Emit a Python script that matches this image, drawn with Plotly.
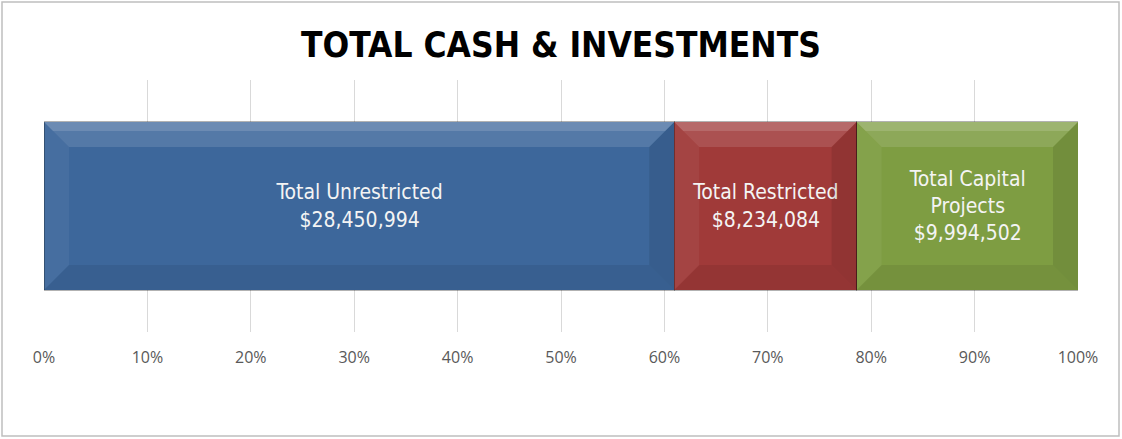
import plotly.graph_objects as go

categories = ["Total Unrestricted", "Total Restricted", "Total Capital<br>Projects"]
values = [28450994, 8234084, 9994502]
colors = ["#3D679B", "#A03A39", "#7E9D42"]
tick_vals = [0, 10, 20, 30, 40, 50, 60, 70, 80, 90, 100]
tick_text = [f"{v}%" for v in tick_vals]
title_text = "TOTAL CASH & INVESTMENTS"

NARROW = "Liberation Sans Narrow, Arial Narrow, Noto Sans Condensed, DejaVu Sans Condensed, Roboto Condensed, sans-serif"

W, H = 1122, 439
ML, MR, MT, MB = 44, 44, 80, 107
PW = W - ML - MR
PH = H - MT - MB
BAR_W = 0.667

fig = go.Figure()
for name, v, c in zip(categories, values, colors):
    fig.add_trace(go.Bar(
        y=[0], x=[v], orientation="h", name=name.replace("<br>", " "),
        width=BAR_W,
        marker=dict(color=c, line=dict(color="rgba(0,0,0,0.3)", width=1)),
        text=[f"{name}<br>${v:,}"], textposition="inside",
        insidetextanchor="middle", textangle=0,
        textfont=dict(color="#F4F4F4", size=21, family=NARROW),
        hoverinfo="skip",
    ))

# bevel decoration derived from data positions
total = sum(values)
bx = 25 / PW * 100
by = 25 / PH * 1.0
tx = 9 / PW * 100
ty = 9 / PH * 1.0
h = BAR_W / 2
shapes = []
cum = 0
for v in values:
    x0 = cum / total * 100
    cum += v
    x1 = cum / total * 100
    polys = [
        ([(x0, h), (x1, h), (x1 - bx, h - by), (x0 + bx, h - by)], "rgba(255,255,255,0.12)"),
        ([(x0, h), (x1, h), (x1 - tx, h - ty), (x0 + tx, h - ty)], "rgba(255,255,255,0.14)"),
        ([(x0, -h), (x1, -h), (x1 - bx, -h + by), (x0 + bx, -h + by)], "rgba(0,0,0,0.07)"),
        ([(x0, h), (x0 + bx, h - by), (x0 + bx, -h + by), (x0, -h)], "rgba(255,255,255,0.05)"),
        ([(x1, h), (x1 - bx, h - by), (x1 - bx, -h + by), (x1, -h)], "rgba(0,0,0,0.09)"),
    ]
    for pts, col in polys:
        path = "M " + " L ".join(f"{px},{py}" for px, py in pts) + " Z"
        shapes.append(dict(type="path", path=path, xref="x", yref="y",
                           fillcolor=col, line=dict(width=0), layer="above"))

# outer chart border
shapes.append(dict(type="rect", xref="paper", yref="paper",
                   x0=(2 - ML) / PW, x1=(W - 3 - ML) / PW,
                   y0=-(MB - 3) / PH, y1=1 + (MT - 2) / PH,
                   line=dict(color="#BFBFBF", width=1.5), fillcolor="rgba(0,0,0,0)", layer="below"))

fig.update_layout(
    width=W, height=H,
    margin=dict(l=ML, r=MR, t=MT, b=MB),
    barmode="stack", barnorm="percent",
    showlegend=False,
    paper_bgcolor="white", plot_bgcolor="white",
    title=dict(text=f"<b>{title_text}</b>", x=0.5, xanchor="center", y=1 - 45 / H, yanchor="middle",
               font=dict(family=NARROW, size=35, color="black")),
    xaxis=dict(range=[0, 100], tickvals=tick_vals, ticktext=tick_text,
               showgrid=True, gridcolor="#D9D9D9", gridwidth=1, zeroline=False, showline=False,
               ticks="", ticklabelstandoff=14,
               tickfont=dict(family="Open Sans, sans-serif", size=16, color="#595959")),
    yaxis=dict(range=[-0.5, 0.5], visible=False, fixedrange=True),
    shapes=shapes,
)

fig.write_html("out.html", config={"displayModeBar": False},
               post_script="document.body.style.margin='0';")
